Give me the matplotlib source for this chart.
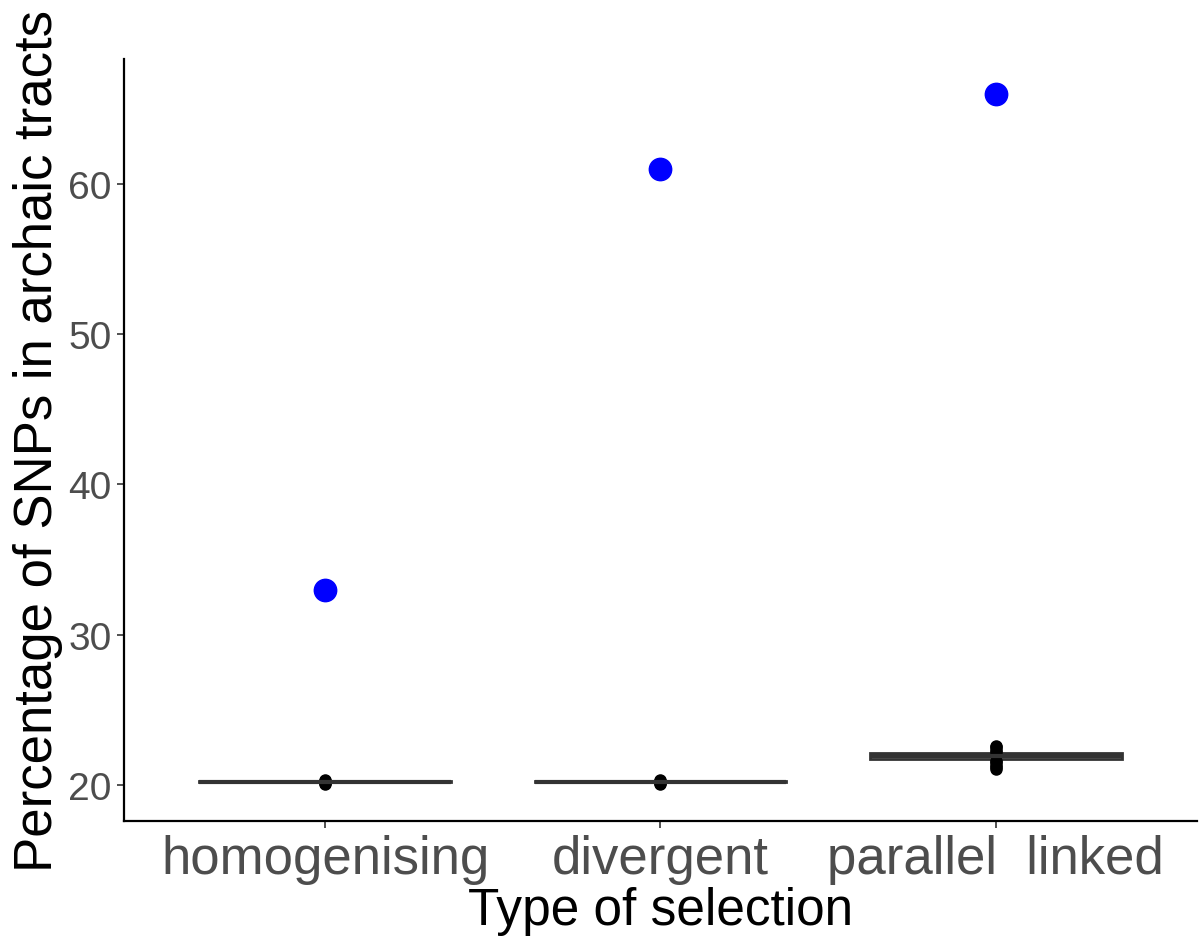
import numpy as np
import matplotlib.pyplot as plt

plt.rcParams['font.family'] = ['Liberation Sans', 'DejaVu Sans']

# categories and observed values (blue points)
categories = ['homogenising', 'divergent', 'parallel  linked']
observed = [33.0, 61.0, 66.0]

# simulated distributions summarised as boxplot stats
q1 = [20.2, 20.2, 21.75]
med = [20.22, 20.22, 21.9]
q3 = [20.25, 20.25, 22.1]
whislo = [20.2, 20.2, 21.65]
whishi = [20.25, 20.25, 22.15]
outliers = [
    [20.05, 20.12, 20.2, 20.28, 20.35],
    [20.05, 20.12, 20.2, 20.28, 20.35],
    [21.05, 21.2, 21.35, 21.5, 21.6, 22.2, 22.35, 22.5, 22.6],
]

stats = []
for i in range(len(categories)):
    stats.append(dict(q1=q1[i], med=med[i], q3=q3[i], whislo=whislo[i],
                      whishi=whishi[i], fliers=outliers[i]))

fig = plt.figure(figsize=(12.01, 9.37), dpi=100)
ax = fig.add_axes([0.1032, 0.1227, 0.8935, 0.8133])

pos = np.arange(1, len(categories) + 1)
ax.bxp(stats, positions=pos, widths=0.75, patch_artist=True,
       boxprops=dict(facecolor='white', edgecolor='#333333', linewidth=2),
       medianprops=dict(color='#333333', linewidth=3),
       whiskerprops=dict(color='#333333', linewidth=2),
       capprops=dict(linewidth=0),
       flierprops=dict(marker='o', markerfacecolor='black', markeredgecolor='black',
                       markersize=8))

ax.scatter(pos, observed, s=260, color='#0000FF', zorder=5)

ax.set_xlim(0.4, 3.6)
ax.set_ylim(17.6, 68.32)
ax.set_xticks(pos)
ax.set_xticklabels(categories)
ax.set_yticks([20, 30, 40, 50, 60])

for s in ['top', 'right']:
    ax.spines[s].set_visible(False)
for s in ['left', 'bottom']:
    ax.spines[s].set_linewidth(1.6)
    ax.spines[s].set_color('black')

ax.tick_params(axis='x', labelsize=38, colors='#333333', labelcolor='#4D4D4D', length=5, width=1.2, pad=4)
ax.tick_params(axis='y', labelsize=28, colors='#333333', labelcolor='#4D4D4D', length=5, width=1.2, pad=4)

ax.set_xlabel('Type of selection', fontsize=37, labelpad=2)
ax.set_ylabel('Percentage of SNPs in archaic tracts', fontsize=38, labelpad=4)

fig.savefig('out.png', dpi=100)
